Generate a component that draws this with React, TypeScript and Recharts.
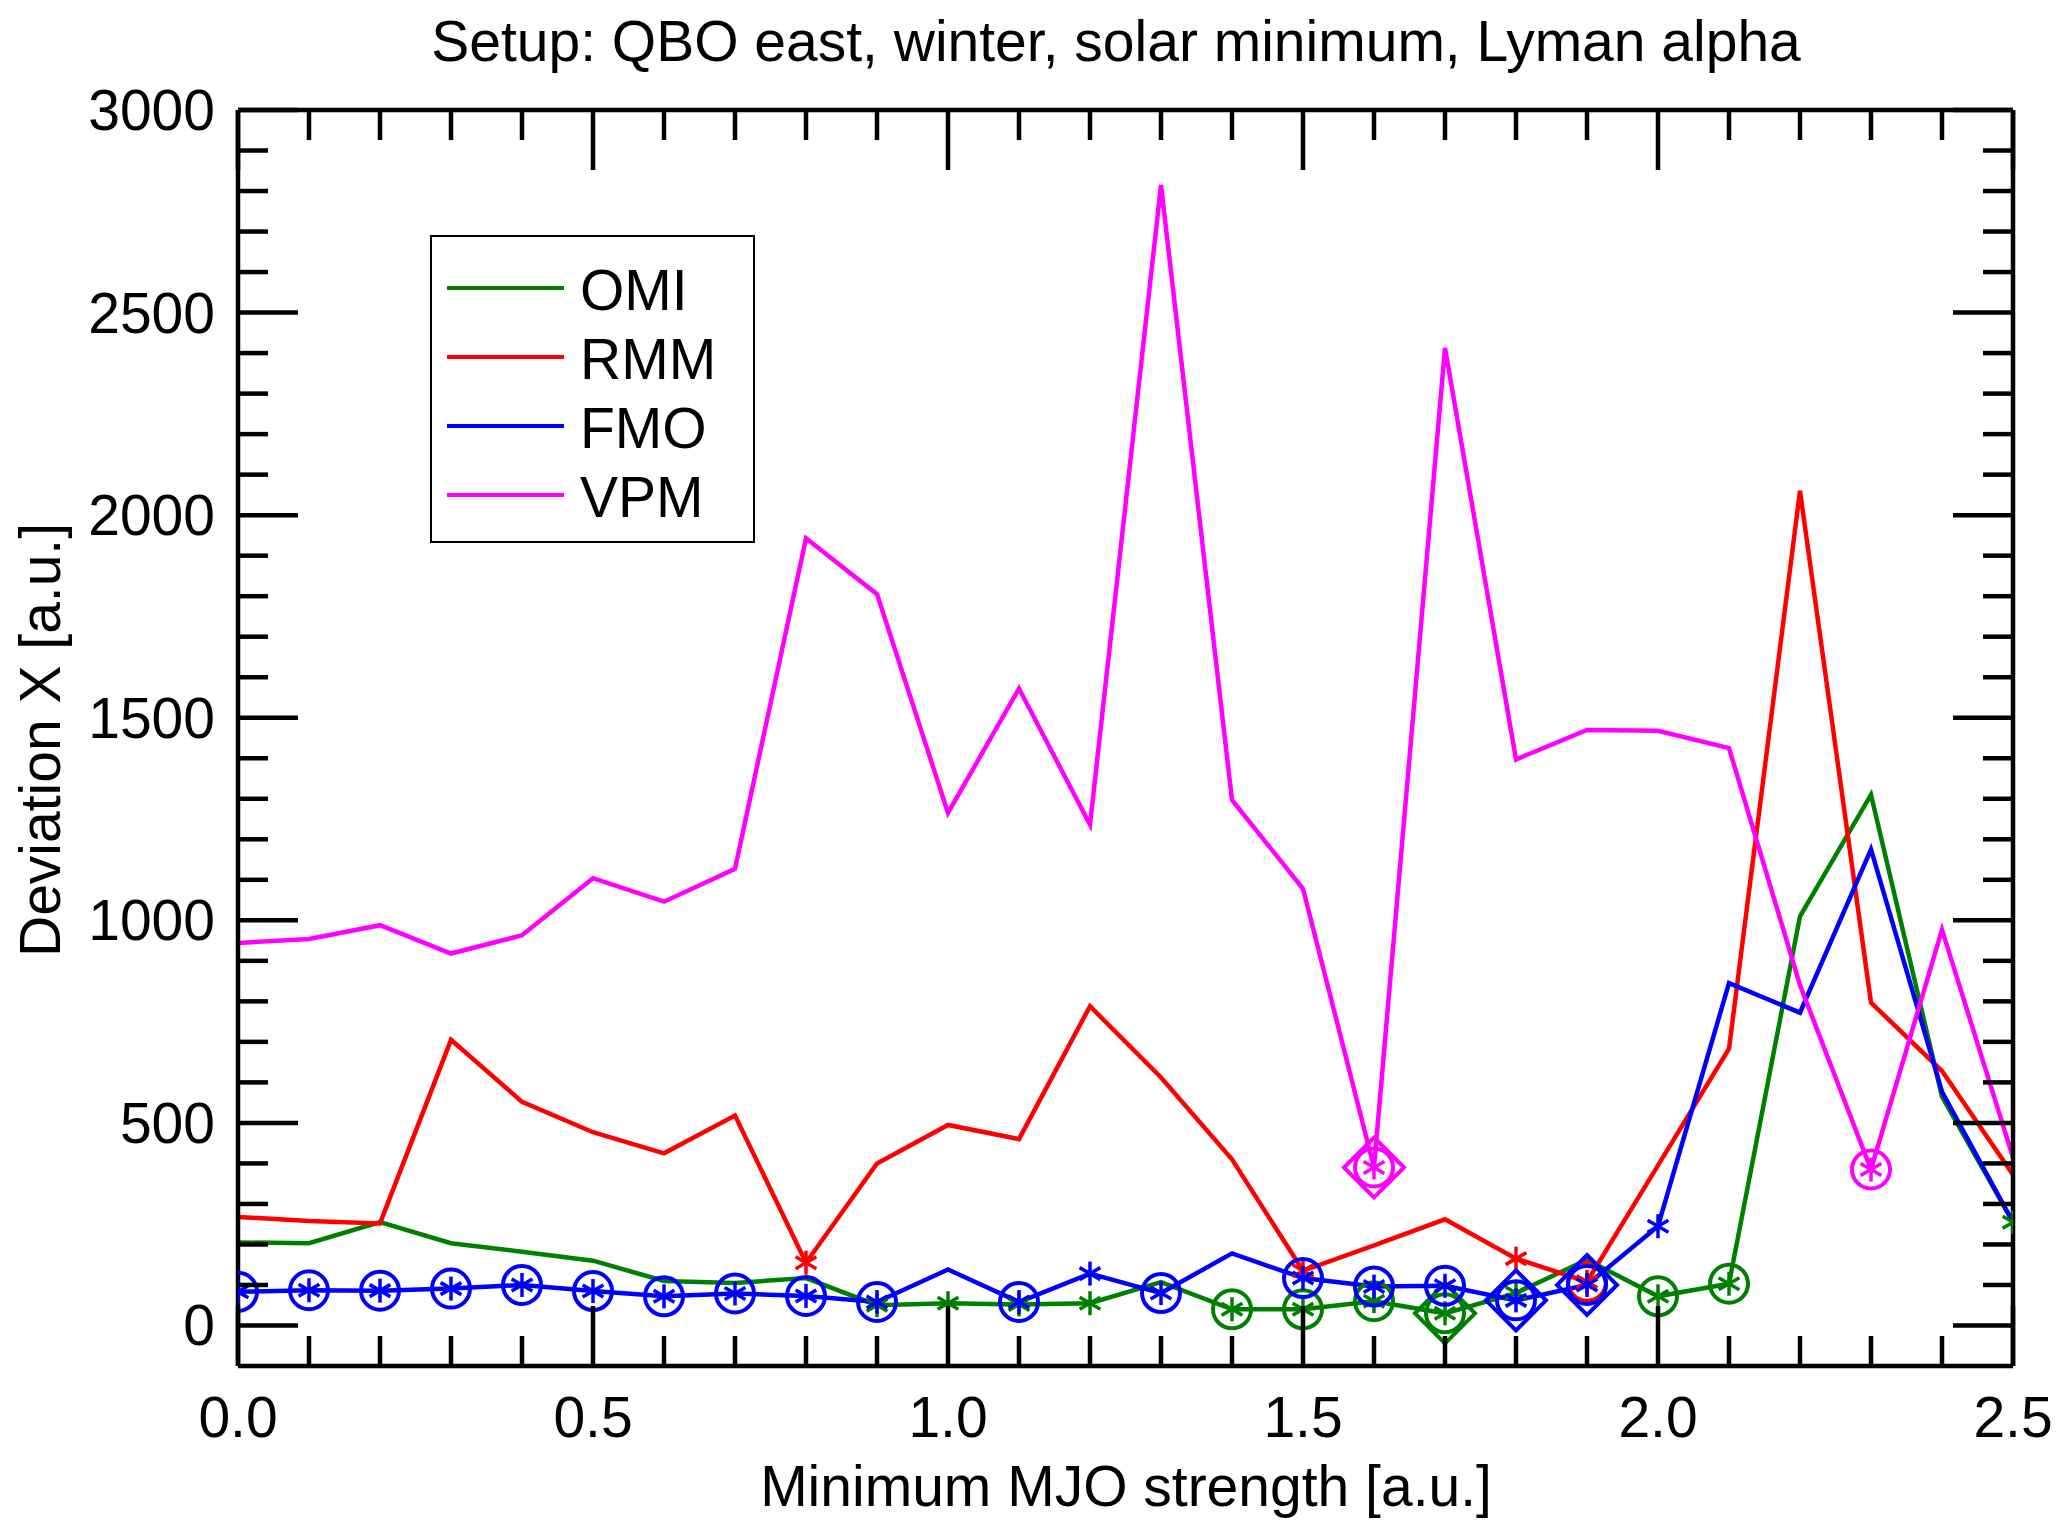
import { LineChart, Line, XAxis, YAxis, Legend } from 'recharts'

// minimum MJO strength thresholds [a.u.]
const MJO_STRENGTH = [
  0.0, 0.1, 0.2, 0.3, 0.4, 0.5, 0.6, 0.7, 0.8, 0.9, 1.0, 1.1, 1.2,
  1.3, 1.4, 1.5, 1.6, 1.7, 1.8, 1.9, 2.0, 2.1, 2.2, 2.3, 2.4, 2.5,
]

// deviation X [a.u.] per MJO index
const OMI = [
  205, 203, 255, 203, 182, 160, 110, 105, 117, 50, 55, 52, 55,
  107, 40, 40, 60, 30, 80, 162, 72, 103, 1010, 1310, 565, 255,
]
const RMM = [
  268, 258, 252, 705, 552, 477, 425, 518, 155, 400, 495, 460, 788,
  612, 410, 135, 198, 262, 165, 108, 395, 683, 2060, 797, 628, 372,
]
const FMO = [
  83, 87, 86, 91, 100, 85, 72, 79, 73, 58, 138, 58, 128,
  80, 178, 117, 96, 98, 62, 100, 245, 845, 772, 1175, 577, 255,
]
const VPM = [
  944, 954, 988, 918, 963, 1104, 1046, 1127, 1943, 1805, 1265, 1572, 1236,
  2815, 1297, 1078, 390, 2413, 1397, 1470, 1468, 1425, 840, 385, 977, 415,
]

// symbols: s = asterisk, c = asterisk in circle, d = asterisk in circle and diamond
const OMI_MARKS = ['', '', '', '', '', '', '', '', '', 's', 's', 's', 's', '', 'c', 'c', 'c', 'd', 's', '', 'c', 'c', '', '', '', 's']
const RMM_MARKS = ['', '', '', '', '', '', '', '', 's', '', '', '', '', '', '', 's', '', '', 's', 'c', '', '', '', '', '', '']
const FMO_MARKS = ['c', 'c', 'c', 'c', 'c', 'c', 'c', 'c', 'c', 'c', '', 'c', 's', 'c', '', 'c', 'c', 'c', 'd', 'd', 's', '', '', '', '', '']
const VPM_MARKS = ['', '', '', '', '', '', '', '', '', '', '', '', '', '', '', '', 'd', '', '', '', '', '', '', 'c', '', '']

const X_MAJOR = [0, 0.5, 1, 1.5, 2, 2.5]
const X_TICK_LABELS = ['0.0', '0.5', '1.0', '1.5', '2.0', '2.5']
const Y_MAJOR = [0, 500, 1000, 1500, 2000, 2500, 3000]
const Y_TICK_LABELS = ['0', '500', '1000', '1500', '2000', '2500', '3000']

const SERIES = [
  { key: 'omi', name: 'OMI', color: '#008000', values: OMI, marks: OMI_MARKS },
  { key: 'rmm', name: 'RMM', color: '#ff0000', values: RMM, marks: RMM_MARKS },
  { key: 'fmo', name: 'FMO', color: '#0000ff', values: FMO, marks: FMO_MARKS },
  { key: 'vpm', name: 'VPM', color: '#ff00ff', values: VPM, marks: VPM_MARKS },
]

const data = MJO_STRENGTH.map((x, i) => {
  const row: Record<string, number> = { x }
  SERIES.forEach((s) => { row[s.key] = s.values[i] })
  return row
})

// minor ticks: 5 per major interval
const subdivide = (majors: number[]) => {
  const out: number[] = []
  for (let i = 0; i < majors.length - 1; i++) {
    const step = (majors[i + 1] - majors[i]) / 5
    for (let k = 0; k < 5; k++) out.push(+(majors[i] + k * step).toFixed(6))
  }
  out.push(majors[majors.length - 1])
  return out
}
const X_TICKS = subdivide(X_MAJOR)
const Y_TICKS = subdivide(Y_MAJOR)

const W = 2067
const H = 1526
const FONT = '"Liberation Sans", Arial, Helvetica, sans-serif'
const FS = 57
const MINOR = 30
const MAJOR = 60
const AXIS_W = 4.5
const LINE_W = 4.5

const majorIndex = (majors: number[], v: number) =>
  majors.findIndex((m) => Math.abs(m - v) < 1e-6)

const textStyle = { fontFamily: FONT, fontSize: FS, fill: '#000' }

function BottomTick({ x, y, payload }: any) {
  const i = majorIndex(X_MAJOR, payload.value)
  return (
    <g>
      <line x1={x} x2={x} y1={y} y2={y - (i >= 0 ? MAJOR : MINOR)} stroke="#000" strokeWidth={AXIS_W} />
      {i >= 0 && (
        <text x={x} y={y + 71} textAnchor="middle" style={textStyle}>{X_TICK_LABELS[i]}</text>
      )}
    </g>
  )
}

function TopTick({ x, y, payload }: any) {
  const i = majorIndex(X_MAJOR, payload.value)
  return <line x1={x} x2={x} y1={y} y2={y + (i >= 0 ? MAJOR : MINOR)} stroke="#000" strokeWidth={AXIS_W} />
}

function LeftTick({ x, y, payload }: any) {
  const i = majorIndex(Y_MAJOR, payload.value)
  return (
    <g>
      <line x1={x} x2={x + (i >= 0 ? MAJOR : MINOR)} y1={y} y2={y} stroke="#000" strokeWidth={AXIS_W} />
      {i >= 0 && (
        <text x={x - 23} y={y + 20} textAnchor="end" style={textStyle}>{Y_TICK_LABELS[i]}</text>
      )}
    </g>
  )
}

function RightTick({ x, y, payload }: any) {
  const i = majorIndex(Y_MAJOR, payload.value)
  return <line x1={x} x2={x - (i >= 0 ? MAJOR : MINOR)} y1={y} y2={y} stroke="#000" strokeWidth={AXIS_W} />
}

function Asterisk({ cx, cy, color }: { cx: number; cy: number; color: string }) {
  const r = 12
  const dx = r * Math.cos(Math.PI / 6)
  const dy = r * Math.sin(Math.PI / 6)
  return (
    <g stroke={color} strokeWidth={3.5}>
      <line x1={cx} y1={cy - r} x2={cx} y2={cy + r} />
      <line x1={cx - dx} y1={cy - dy} x2={cx + dx} y2={cy + dy} />
      <line x1={cx - dx} y1={cy + dy} x2={cx + dx} y2={cy - dy} />
    </g>
  )
}

const makeDot = (marks: string[], color: string, name: string) => (props: any) => {
  const { cx, cy, index } = props
  const m = marks[index]
  const key = `${name}-dot-${index}`
  if (!m || cx == null || cy == null) return <g key={key} />
  const d = 30
  return (
    <g key={key}>
      <Asterisk cx={cx} cy={cy} color={color} />
      {(m === 'c' || m === 'd') && (
        <circle cx={cx} cy={cy} r={19} fill="none" stroke={color} strokeWidth={4} />
      )}
      {m === 'd' && (
        <polygon
          points={`${cx},${cy - d} ${cx + d},${cy} ${cx},${cy + d} ${cx - d},${cy}`}
          fill="none"
          stroke={color}
          strokeWidth={4}
        />
      )}
    </g>
  )
}

function LegendBox() {
  return (
    <div
      style={{
        position: 'relative',
        width: 325,
        height: 308,
        border: '2.5px solid #000',
        boxSizing: 'border-box',
        background: '#fff',
        fontFamily: FONT,
        fontSize: FS,
      }}
    >
      {SERIES.map((s, i) => (
        <div key={s.key}>
          <div
            style={{
              position: 'absolute',
              left: 15,
              top: 49 + i * 69,
              width: 117,
              height: 4,
              background: s.color,
            }}
          />
          <div
            style={{
              position: 'absolute',
              left: 148,
              top: 53 + i * 69 - 33,
              lineHeight: '66px',
              whiteSpace: 'nowrap',
            }}
          >
            {s.name}
          </div>
        </div>
      ))}
    </div>
  )
}

export default function App() {
  return (
    <div style={{ position: 'absolute', left: 0, top: 0, width: W, height: H, background: '#fff' }}>
      <LineChart
        width={W}
        height={H}
        data={data}
        margin={{ top: 109, right: 53, bottom: 159, left: 237 }}
      >
        <XAxis
          dataKey="x"
          type="number"
          domain={[0, 2.5]}
          ticks={X_TICKS}
          interval={0}
          height={1}
          tickSize={0}
          tickMargin={0}
          tickLine={false}
          tick={BottomTick}
          axisLine={{ stroke: '#000', strokeWidth: AXIS_W }}
          allowDataOverflow
          label={() => (
            <text x={1126} y={1506} textAnchor="middle" style={textStyle}>
              Minimum MJO strength [a.u.]
            </text>
          )}
        />
        <XAxis
          xAxisId="top"
          orientation="top"
          dataKey="x"
          type="number"
          domain={[0, 2.5]}
          ticks={X_TICKS}
          interval={0}
          height={1}
          tickSize={0}
          tickMargin={0}
          tickLine={false}
          tick={TopTick}
          axisLine={{ stroke: '#000', strokeWidth: AXIS_W }}
          allowDataOverflow
          label={() => (
            <text x={1116} y={61} textAnchor="middle" style={textStyle}>
              Setup: QBO east, winter, solar minimum, Lyman alpha
            </text>
          )}
        />
        <YAxis
          type="number"
          domain={[-100, 3000]}
          ticks={Y_TICKS}
          interval={0}
          width={1}
          tickSize={0}
          tickMargin={0}
          tickLine={false}
          tick={LeftTick}
          axisLine={{ stroke: '#000', strokeWidth: AXIS_W }}
          allowDataOverflow
          label={() => (
            <text
              x={60}
              y={740}
              textAnchor="middle"
              transform="rotate(-90 60 740)"
              style={textStyle}
            >
              Deviation X [a.u.]
            </text>
          )}
        />
        <YAxis
          yAxisId="right"
          orientation="right"
          type="number"
          domain={[-100, 3000]}
          ticks={Y_TICKS}
          interval={0}
          width={1}
          tickSize={0}
          tickMargin={0}
          tickLine={false}
          tick={RightTick}
          axisLine={{ stroke: '#000', strokeWidth: AXIS_W }}
          allowDataOverflow
        />
        <Legend
          layout="horizontal"
          verticalAlign="middle"
          align="center"
          wrapperStyle={{ left: 430, top: 235, width: 325, height: 308 }}
          content={() => <LegendBox />}
        />
        {SERIES.map((s) => (
          <Line
            key={s.key}
            dataKey={s.key}
            name={s.name}
            type="linear"
            stroke={s.color}
            strokeWidth={LINE_W}
            strokeLinejoin="miter"
            dot={makeDot(s.marks, s.color, s.key)}
            activeDot={false}
            isAnimationActive={false}
          />
        ))}
      </LineChart>
    </div>
  )
}
